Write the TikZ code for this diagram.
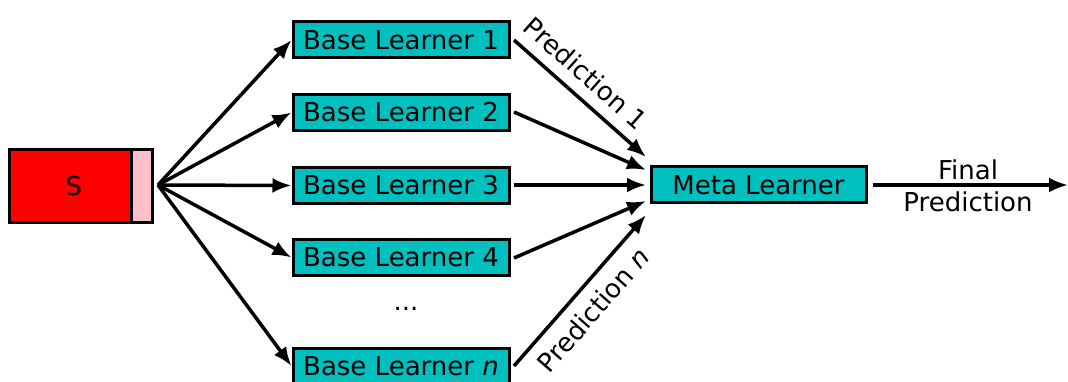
\documentclass[tikz,border=0pt]{standalone}
\usepackage{fontspec}
\setmainfont{DejaVu Sans}
\usetikzlibrary{arrows.meta}
\definecolor{boxc}{RGB}{0,191,191}
\definecolor{pinkc}{RGB}{255,192,203}
\tikzset{
  learner/.style={draw=black, line width=3pt, fill=boxc, minimum width=216pt, minimum height=36pt, inner sep=0pt},
  conn/.style={line width=3.5pt, -{Latex[length=19pt,width=15pt]}},
  lbl/.style={inner sep=11pt}
}
\begin{document}
\begin{tikzpicture}[x=1pt,y=-1pt]
\fontsize{26}{32}\selectfont
\useasboundingbox (0,0) rectangle (1068,382);
% S block
\node[draw=black, line width=3pt, fill=red, minimum width=122pt, minimum height=73pt, inner sep=0pt, anchor=north west] (s) at (8,148) {};
\node[draw=black, line width=3pt, fill=pinkc, minimum width=21pt, minimum height=73pt, inner sep=0pt, anchor=north west] (sp) at (130,148) {};
\node (st) at (74,186) {S};
\coordinate (o) at (158,185);
% base learners
\node[learner] (b1) at (401,40) {Base Learner 1};
\node[learner] (b2) at (401,112.5) {Base Learner 2};
\node[learner] (b3) at (401,185.5) {Base Learner 3};
\node[learner] (b4) at (401,257.5) {Base Learner 4};
\node[learner] (bn) at (401,366) {Base Learner \textit{n}};
\node (dots) at (406,309) {...};
% meta learner
\node[learner, minimum width=215pt] (meta) at (758.5,185) {Meta Learner};
% fan
\draw[conn] (o) -- (b1.west);
\draw[conn] (o) -- (b2.west);
\draw[conn] (o) -- (b3.west);
\draw[conn] (o) -- (b4.west);
\draw[conn] (o) -- (bn.west);
% to meta
\coordinate (m1) at (646,157);
\coordinate (m2) at (646,170);
\coordinate (m3) at (646,185);
\coordinate (m4) at (646,201);
\coordinate (m5) at (646,215);
\coordinate (s1) at (514,40);
\coordinate (s2) at (514,112);
\coordinate (s3) at (514,185);
\coordinate (s4) at (514,258);
\coordinate (s5) at (514,366);
\draw[conn] (s1) -- node[lbl, sloped, above, pos=0.43] {Prediction 1} (m1);
\draw[conn] (s2) -- (m2);
\draw[conn] (s3) -- (m3);
\draw[conn] (s4) -- (m4);
\draw[conn] (s5) -- node[lbl, sloped, below, pos=0.47] {Prediction \textit{n}} (m5);
% final
\coordinate (fe) at (1068,185);
\draw[conn] ([xshift=5pt]meta.east) -- (fe);
\node[align=center, inner sep=0pt] (fp) at (968,186) {Final\\Prediction};
\end{tikzpicture}
\end{document}
